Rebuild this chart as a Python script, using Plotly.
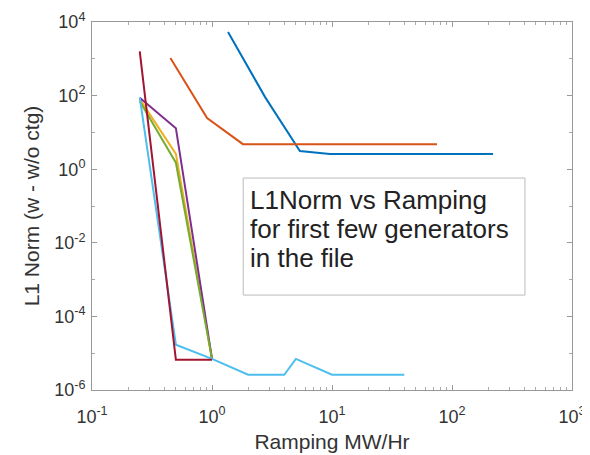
import plotly.graph_objects as go

# ramping (MW/Hr) and L1 norm values per generator
gen1_x = [1.36, 2.77, 5.4, 9.6, 220]
gen1_y = [5350, 91, 3.1, 2.6, 2.6]
gen2_x = [0.45, 0.91, 1.81, 75]
gen2_y = [1050, 24.5, 4.8, 4.8]
gen3_x = [0.25, 0.5, 1.0]
gen3_y = [80, 2.6, 7e-6]
gen4_x = [0.25, 0.5, 1.0]
gen4_y = [88, 13, 7e-6]
gen5_x = [0.25, 0.5, 1.0]
gen5_y = [70, 1.5, 7e-6]
gen6_x = [0.25, 0.5, 1.0, 2.0, 4.0, 5.0, 10.0, 40.0]
gen6_y = [90, 1.7e-5, 7e-6, 2.6e-6, 2.6e-6, 7e-6, 2.6e-6, 2.6e-6]
gen7_x = [0.25, 0.5, 1.0]
gen7_y = [1600, 6.6e-6, 6.6e-6]

x_ticks = [0.1, 1, 10, 100, 1000]
x_labels = ["10<sup>-1</sup>", "10<sup>0</sup>", "10<sup>1</sup>", "10<sup>2</sup>", "10<sup>3</sup>"]
y_ticks = [1e-6, 1e-4, 1e-2, 1, 1e2, 1e4]
y_labels = ["10<sup>-6</sup>", "10<sup>-4</sup>", "10<sup>-2</sup>", "10<sup>0</sup>", "10<sup>2</sup>", "10<sup>4</sup>"]

note_lines = ["L1Norm vs Ramping", "for first few generators", "in the file"]

series = [
    (gen1_x, gen1_y, "#0072BD"),
    (gen2_x, gen2_y, "#D95319"),
    (gen3_x, gen3_y, "#EDB120"),
    (gen4_x, gen4_y, "#7E2F8E"),
    (gen5_x, gen5_y, "#77AC30"),
    (gen6_x, gen6_y, "#4DBEEE"),
    (gen7_x, gen7_y, "#A2142F"),
]

fig = go.Figure()
for xs, ys, c in series:
    fig.add_trace(go.Scatter(x=xs, y=ys, mode="lines", line=dict(color=c, width=2), showlegend=False))

axis_common = dict(
    type="log", showgrid=False, zeroline=False, showline=True, linecolor="#999",
    linewidth=1, mirror="allticks", ticks="inside", ticklen=5, tickcolor="#999",
    tickfont=dict(size=18, color="#333"), ticklabeloverflow="allow", automargin=False,
)
fig.update_xaxes(**axis_common, range=[-1, 3], tickvals=x_ticks, ticktext=x_labels,
                 ticklabelstandoff=10,
                 minor=dict(ticks="inside", ticklen=3, tickcolor="#aaa", dtick="D1", showgrid=False),
                 title=dict(text="Ramping MW/Hr", font=dict(size=21, color="#333"), standoff=8))
fig.update_yaxes(**axis_common, range=[-6, 4], tickvals=y_ticks, ticktext=y_labels,
                 ticklabelstandoff=2,
                 minor=dict(ticks="inside", ticklen=3, tickcolor="#aaa", dtick=1, showgrid=False),
                 title=dict(text="L1 Norm (w - w/o ctg)", font=dict(size=21, color="#333"), standoff=8))

fig.add_shape(type="rect", xref="paper", yref="paper", x0=0.315, x1=0.902, y0=0.258, y1=0.576,
              line=dict(color="#bbb", width=1), fillcolor="white", layer="above")
for i, line in enumerate(note_lines):
    fig.add_annotation(xref="paper", yref="paper", x=0.325, y=0.516 - i * 0.0785,
                       xanchor="left", yanchor="middle", text=line, align="left",
                       showarrow=False, font=dict(size=26, color="#222"))

# the page body adds an 8px offset, margins are set so the plot area lands where the reference has it
fig.update_layout(
    width=590, height=455, margin=dict(l=84, r=26, t=14, b=73),
    paper_bgcolor="white", plot_bgcolor="white",
    font=dict(family="Liberation Sans, Arial, sans-serif"),
)
fig.write_html("out.html")
